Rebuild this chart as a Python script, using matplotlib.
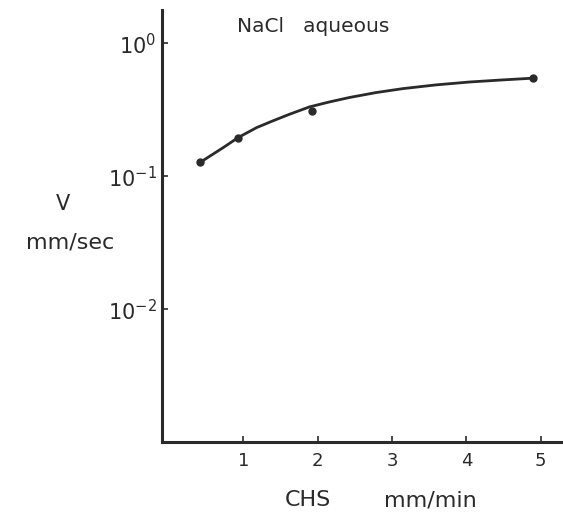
import matplotlib.pyplot as plt
from matplotlib.ticker import NullLocator

plt.rcParams['font.family'] = ['DejaVu Sans']

# measured points
chs = [0.42, 0.93, 1.93, 4.89]
v = [0.127, 0.195, 0.310, 0.546]

# hand drawn fit curve
curve_x = [0.42, 0.73, 0.93, 1.18, 1.40, 1.62, 1.89, 2.16, 2.43, 2.79,
           3.15, 3.59, 4.04, 4.49, 4.89]
curve_v = [0.127, 0.164, 0.195, 0.232, 0.261, 0.292, 0.332, 0.362, 0.391,
           0.426, 0.456, 0.486, 0.511, 0.530, 0.546]

xticks = [1, 2, 3, 4, 5]
yticks = [1e-2, 1e-1, 1e0]
ytick_labels = ['$10^{-2}$', '$10^{-1}$', '$10^{0}$']

ink = '#2a2a2a'

fig = plt.figure(figsize=(5.63, 5.13), dpi=100)
ax = fig.add_axes([0.288, 0.138, 0.712, 0.842])

ax.plot(curve_x, curve_v, color=ink, lw=2)
ax.plot(chs, v, 'o', color=ink, ms=5)

ax.set_yscale('log')
ax.set_xlim(-0.09, 5.3)
ax.set_ylim(1e-3, 1.77)

ax.set_xticks(xticks)
ax.set_xticklabels([str(t) for t in xticks])
ax.set_yticks(yticks)
ax.set_yticklabels(ytick_labels)
ax.yaxis.set_minor_locator(NullLocator())

ax.tick_params(direction='in', length=4, width=1.2, colors=ink)
ax.tick_params(axis='x', labelsize=13, pad=7)
ax.tick_params(axis='y', labelsize=15, pad=4)

for s in ['top', 'right']:
    ax.spines[s].set_visible(False)
for s in ['left', 'bottom']:
    ax.spines[s].set_linewidth(2.2)
    ax.spines[s].set_color(ink)

fig.text(0.421, 0.9376, 'NaCl   aqueous', fontsize=14.5, color=ink, va='baseline')
fig.text(0.112, 0.602, 'V', fontsize=15, color=ink, ha='center', va='center')
fig.text(0.124, 0.528, 'mm/sec', fontsize=16, color=ink, ha='center', va='center')
fig.text(0.547, 0.025, 'CHS', fontsize=16, color=ink, ha='center', va='center')
fig.text(0.764, 0.025, 'mm/min', fontsize=16, color=ink, ha='center', va='center')

plt.savefig('out.png')
